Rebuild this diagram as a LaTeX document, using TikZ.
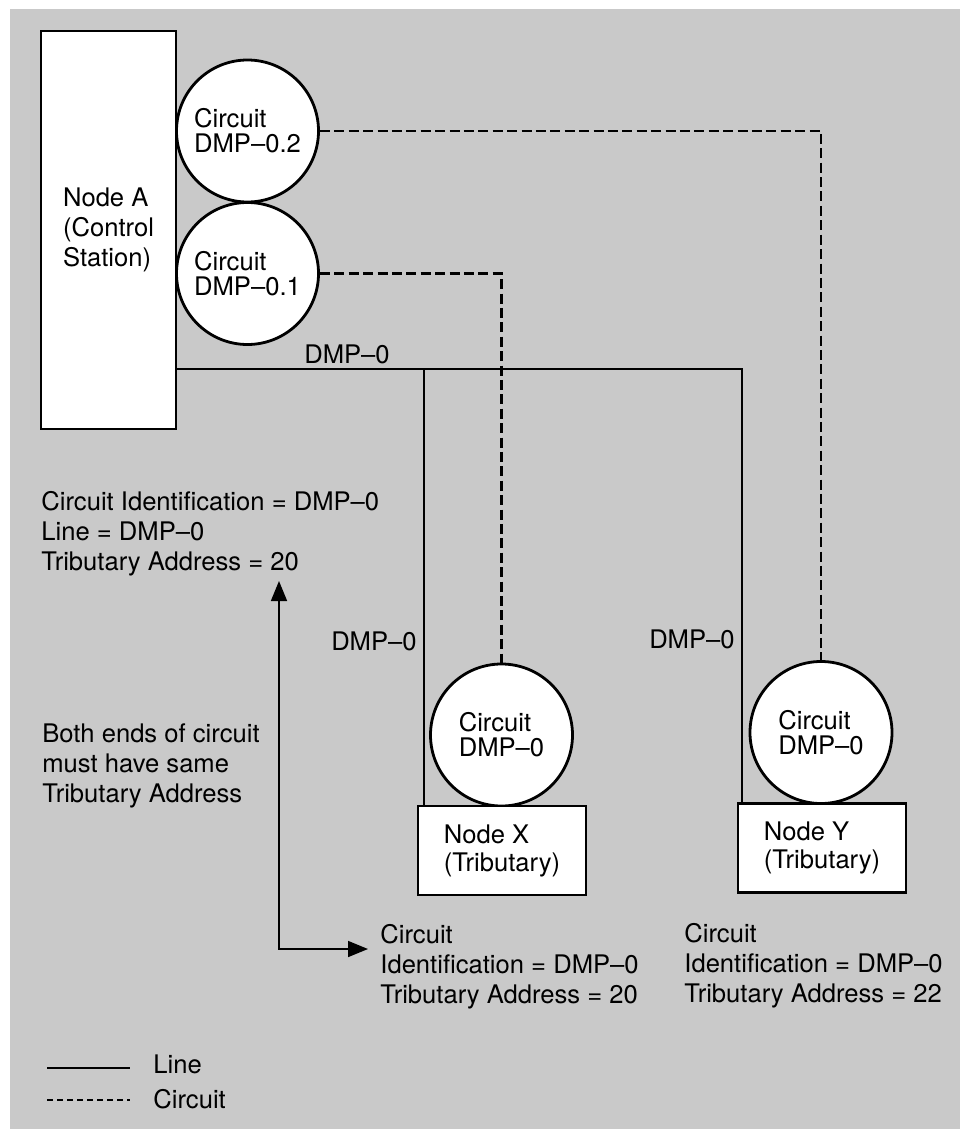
\documentclass[tikz,border=0pt]{standalone}
\usepackage{fontspec}
\setmainfont{TeX Gyre Heros}
\usepackage{tikz}
\usetikzlibrary{arrows.meta}
\tikzset{every node/.style={font=\fontsize{12.8}{15}\selectfont},
    station/.style={draw,fill=white,line width=1.4pt,minimum width=67.5pt,
        minimum height=199pt,align=left,inner sep=0pt},
    tributary/.style={draw,fill=white,line width=1.4pt,minimum width=84pt,
        minimum height=44.5pt,align=left,inner sep=0pt,
        font=\fontsize{12.8}{14}\selectfont},
    circuit/.style={draw,fill=white,circle,line width=1.4pt,minimum size=71pt,
        align=left,inner sep=0pt,font=\fontsize{12.8}{12.5}\selectfont},
    note/.style={align=left,inner sep=0pt,anchor=north west},
    tag/.style={inner sep=0pt},
    wire/.style={line width=0.75pt},
    virtual/.style={line width=1.1pt,dash pattern=on 5pt off 2.2pt},
    legdash/.style={line width=0.6pt,dash pattern=on 3pt off 2pt},
    pointer/.style={line width=0.8pt,
        {Triangle[length=10pt,width=8pt]}-{Triangle[length=10pt,width=8pt]}},
    x=0.5pt,y=-0.5pt}
\begin{document}
\begin{tikzpicture}
    \useasboundingbox (0,0) rectangle (960,1129);
    \fill[black!21] (10,9) rectangle (960,1129);
    \coordinate (tapX) at (424,369);
    \coordinate (tapY) at (742,369);
    \coordinate (arrowtop) at (279,581);
    \coordinate (arrowend) at (368,949);

    \node[station] (nodeA) at (108.5,230) {Node A\\(Control\\Station)};
    \node[circuit] (dmp2) at (247.5,131) {Circuit\\DMP\textendash 0.2};
    \node[circuit] (dmp1) at (247.5,273.5) {Circuit\\DMP\textendash 0.1};
    \node[circuit] (cirX) at (501.5,735) {Circuit\\DMP\textendash 0};
    \node[tributary] (nodeX) at (502,850.5) {Node X\\(Tributary)};
    \node[circuit] (cirY) at (821,732.5) {Circuit\\DMP\textendash 0};
    \node[tributary] (nodeY) at (822,848) {Node Y\\(Tributary)};

    \draw[wire] (tapX -| nodeA.east) -- (tapY) -- (tapY |- nodeY.north);
    \draw[wire] (tapX) -- (tapX |- nodeX.north);
    \draw[virtual] (dmp2.east) -| (cirY.north);
    \draw[virtual] (dmp1.east) -| (cirX.north);

    \node[tag,anchor=base] (lblA) at (347,363) {DMP\textendash 0};
    \node[tag,anchor=base east] (lblX) at (417,650) {DMP\textendash 0};
    \node[tag,anchor=base east] (lblY) at (735,648) {DMP\textendash 0};

    \node[note] (infoA) at (41,491)
        {Circuit Identification = DMP\textendash 0\\Line = DMP\textendash 0\\Tributary Address = 20};
    \node[note] (hint) at (42,723)
        {Both ends of circuit\\must have same\\Tributary Address};
    \node[note] (infoX) at (380,924)
        {Circuit\\Identification = DMP\textendash 0\\Tributary Address = 20};
    \node[note] (infoY) at (684,923)
        {Circuit\\Identification = DMP\textendash 0\\Tributary Address = 22};
    \draw[pointer] (arrowtop) |- (arrowend);

    \draw[wire] (47,1068) -- (130,1068);
    \draw[legdash] (47,1100) -- (130,1100);
    \node[tag,anchor=base west] (legLine) at (153,1073) {Line};
    \node[tag,anchor=base west] (legCircuit) at (153,1108) {Circuit};
\end{tikzpicture}
\end{document}
